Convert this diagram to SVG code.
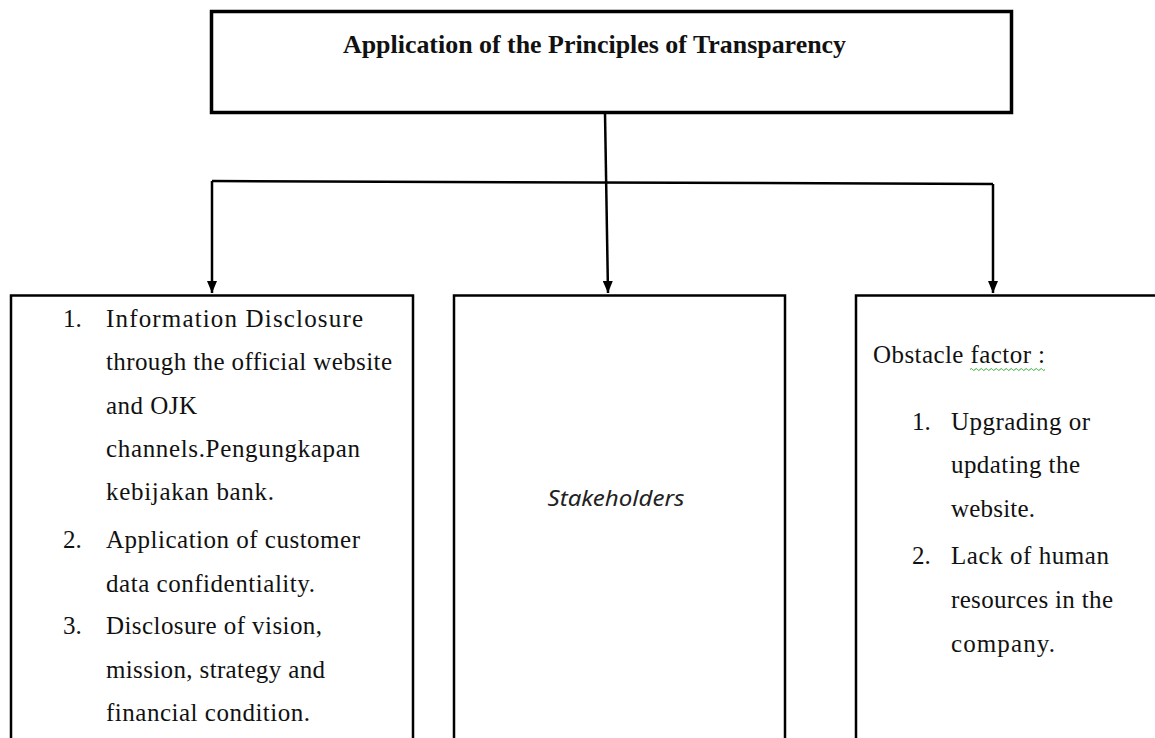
<svg xmlns="http://www.w3.org/2000/svg" width="1155" height="738" viewBox="0 0 1155 738">
  <defs>
    <marker id="arrow" viewBox="0 0 12 10" refX="12" refY="5" markerWidth="12" markerHeight="10" markerUnits="userSpaceOnUse" orient="auto">
      <path d="M0,0 L12,5 L0,10 Z" fill="#000"/>
    </marker>
    <style>
      .box { fill: #fff; stroke: #000; stroke-width: 2.5; }
      .title-box { fill: #fff; stroke: #000; stroke-width: 3.5; }
      .link { fill: none; stroke: #000; stroke-width: 2.5; }
      .t { font-family: "Liberation Serif", "Times New Roman", serif; font-size: 25px; fill: #111; }
      .title { font-family: "Liberation Serif", "Times New Roman", serif; font-size: 25px; font-weight: bold; fill: #111; }
      .ital { font-family: "Noto Sans", "Liberation Sans", sans-serif; font-size: 21px; font-style: italic; fill: #222; }
    </style>
  </defs>
  <rect width="1155" height="738" fill="#fff"/>

  <g id="connectors">
    <path class="link" d="M605,113 L608,293" marker-end="url(#arrow)"/>
    <path class="link" d="M212,181 L993,184"/>
    <path class="link" d="M212,181 L212,293" marker-end="url(#arrow)"/>
    <path class="link" d="M993,184 L993,293" marker-end="url(#arrow)"/>
  </g>

  <g id="node-principles">
    <rect class="title-box" x="211.5" y="11.5" width="800" height="101"/>
    <text class="title" x="343" y="53" textLength="503" lengthAdjust="spacingAndGlyphs">Application of the Principles of Transparency</text>
  </g>

  <g id="node-implementation">
    <rect class="box" x="11" y="295.5" width="402" height="460"/>
    <text class="t" x="63" y="327">1.</text>
    <text class="t" x="106" y="327" textLength="257" lengthAdjust="spacing">Information Disclosure</text>
    <text class="t" x="106" y="370" textLength="286" lengthAdjust="spacing">through the official website</text>
    <text class="t" x="106" y="414" textLength="91" lengthAdjust="spacing">and OJK</text>
    <text class="t" x="106" y="457" textLength="254" lengthAdjust="spacing">channels.Pengungkapan</text>
    <text class="t" x="106" y="500" textLength="168" lengthAdjust="spacing">kebijakan bank.</text>
    <text class="t" x="63" y="548">2.</text>
    <text class="t" x="106" y="548" textLength="254" lengthAdjust="spacing">Application of customer</text>
    <text class="t" x="106" y="592" textLength="209" lengthAdjust="spacing">data confidentiality.</text>
    <text class="t" x="63" y="634">3.</text>
    <text class="t" x="106" y="634" textLength="216" lengthAdjust="spacing">Disclosure of vision,</text>
    <text class="t" x="106" y="678" textLength="219" lengthAdjust="spacing">mission, strategy and</text>
    <text class="t" x="106" y="721" textLength="204" lengthAdjust="spacing">financial condition.</text>
  </g>

  <g id="node-stakeholders">
    <rect class="box" x="454" y="295.5" width="331" height="460"/>
    <text class="ital" x="616" y="506" text-anchor="middle" textLength="137" lengthAdjust="spacingAndGlyphs">Stakeholders</text>
  </g>

  <g id="node-obstacles">
    <rect class="box" x="856" y="295.5" width="320" height="460"/>
    <text class="t" x="873" y="363" textLength="172" lengthAdjust="spacing">Obstacle factor :</text>
    <path d="M970,369.5 q1.25,-2 2.5,0 t2.5,0 t2.5,0 t2.5,0 t2.5,0 t2.5,0 t2.5,0 t2.5,0 t2.5,0 t2.5,0 t2.5,0 t2.5,0 t2.5,0 t2.5,0 t2.5,0 t2.5,0 t2.5,0 t2.5,0 t2.5,0 t2.5,0 t2.5,0 t2.5,0 t2.5,0 t2.5,0 t2.5,0 t2.5,0 t2.5,0 t2.5,0 t2.5,0 t2.5,0" fill="none" stroke="#3a3" stroke-width="1"/>
    <text class="t" x="912" y="430">1.</text>
    <text class="t" x="951" y="430" textLength="139" lengthAdjust="spacing">Upgrading or</text>
    <text class="t" x="951" y="473" textLength="129" lengthAdjust="spacing">updating the</text>
    <text class="t" x="951" y="517" textLength="84" lengthAdjust="spacing">website.</text>
    <text class="t" x="912" y="564">2.</text>
    <text class="t" x="951" y="564" textLength="158" lengthAdjust="spacing">Lack of human</text>
    <text class="t" x="951" y="608" textLength="162" lengthAdjust="spacing">resources in the</text>
    <text class="t" x="951" y="652" textLength="104" lengthAdjust="spacing">company.</text>
  </g>
</svg>
